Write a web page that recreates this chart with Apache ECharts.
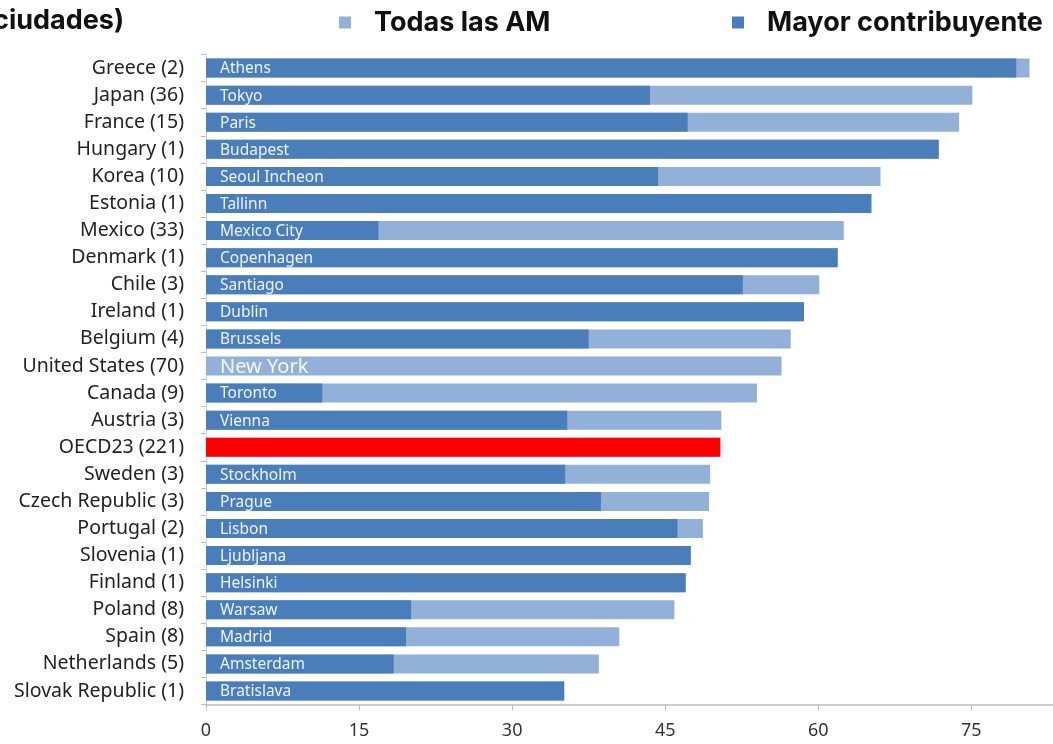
<!DOCTYPE html>
<html>
<head>
<meta charset="utf-8">
<script src="https://cdn.jsdelivr.net/npm/echarts@6/dist/echarts.min.js"></script>
<style>
html,body{margin:0;padding:0;background:#fff;}
#chart{width:1053px;height:744px;}
</style>
</head>
<body>
<div id="chart"></div>
<script>
const categories = ['Greece (2)','Japan (36)','France (15)','Hungary (1)','Korea (10)','Estonia (1)','Mexico (33)','Denmark (1)','Chile (3)','Ireland (1)','Belgium (4)','United States (70)','Canada (9)','Austria (3)','OECD23 (221)','Sweden (3)','Czech Republic (3)','Portugal (2)','Slovenia (1)','Finland (1)','Poland (8)','Spain (8)','Netherlands (5)','Slovak Republic (1)'];
const cities = ['Athens','Tokyo','Paris','Budapest','Seoul Incheon','Tallinn','Mexico City','Copenhagen','Santiago','Dublin','Brussels','New York','Toronto','Vienna','','Stockholm','Prague','Lisbon','Ljubljana','Helsinki','Warsaw','Madrid','Amsterdam','Bratislava'];
const totalValues = [80.7,75.1,73.8,71.8,66.1,65.2,62.5,61.9,60.1,58.6,57.3,56.4,54.0,50.5,50.4,49.4,49.3,48.7,47.5,47.0,45.9,40.5,38.5,35.1];
const mainValues = [79.4,43.5,47.2,71.8,44.3,65.2,16.9,61.9,52.6,58.6,37.5,0,11.4,35.4,50.4,35.2,38.7,46.2,47.5,47.0,20.1,19.6,18.4,35.1];
const xTicks = [0,15,30,45,60,75];
const highlightCategory = 'OECD23 (221)';

const DARK = '#4a7ebb', LIGHT = '#93b1d8', RED = '#ff0000';
const chart = echarts.init(document.getElementById('chart'));
const legendText = {fontFamily: 'Inter', fontWeight: 'bold', fontSize: 27, color: '#111', padding: [0,0,0,18]};
const option = {
  backgroundColor: '#fff',
  animation: false,
  title: {
    text: 'ciudades)', left: -12, top: 2,
    textStyle: {fontFamily: 'Inter', fontWeight: 'bold', fontSize: 27, color: '#111'}
  },
  legend: [
    {data: ['Todas las AM'], left: 334, top: 4, itemWidth: 12, itemHeight: 12, icon: 'rect', textStyle: legendText},
    {data: ['Mayor contribuyente'], left: 727, top: 4, itemWidth: 12, itemHeight: 12, icon: 'rect', textStyle: legendText}
  ],
  grid: {left: 206, right: 0, top: 54.5, bottom: 39.5, containLabel: false},
  xAxis: {
    type: 'value', min: 0, max: 83, interval: 15,
    axisLine: {show: true, lineStyle: {color: '#bdbdbd', width: 1.5}},
    axisTick: {show: true, length: 6, lineStyle: {color: '#bdbdbd'}},
    splitLine: {show: false},
    axisLabel: {
      showMaxLabel: false, margin: 17,
      fontFamily: 'Noto Sans', fontSize: 18, color: '#333',
      formatter: v => xTicks.includes(v) ? String(v) : ''
    }
  },
  yAxis: {
    type: 'category', data: categories, inverse: true,
    axisLine: {show: true, lineStyle: {color: '#d6d6d6'}},
    axisTick: {show: true, length: 5, lineStyle: {color: '#bdbdbd'}},
    axisLabel: {margin: 22, fontFamily: 'Noto Sans', fontSize: 19.5, color: '#222'}
  },
  series: [
    {
      name: 'Todas las AM', type: 'bar', data: totalValues,
      barWidth: 19, barGap: '-100%', itemStyle: {color: LIGHT}
    },
    {
      name: 'Mayor contribuyente', type: 'bar',
      data: mainValues.map((v, i) => categories[i] === highlightCategory ? {value: v, itemStyle: {color: RED}} : v),
      barWidth: 19, barGap: '-100%', itemStyle: {color: DARK}
    },
    {
      name: 'labels', type: 'bar', data: totalValues, silent: true,
      barWidth: 19, barGap: '-100%', itemStyle: {color: 'rgba(0,0,0,0)'},
      label: {
        show: true, position: 'insideLeft', distance: 14, offset: [0, 1],
        fontFamily: 'Noto Sans', fontSize: 15.5, color: '#eef3fa',
        formatter: p => cities[p.dataIndex] === 'New York' ? '{big|New York}' : cities[p.dataIndex],
        rich: {big: {fontFamily: 'Noto Sans', fontSize: 20, color: '#f4f7fc'}}
      }
    }
  ]
};
chart.setOption(option);
</script>
</body>
</html>
